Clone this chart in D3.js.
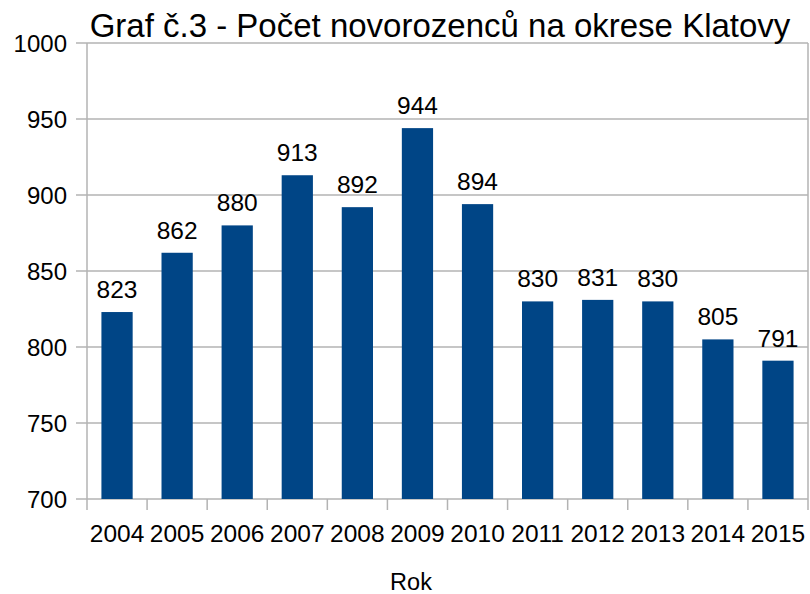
<!DOCTYPE html>
<html>
<head>
<meta charset="utf-8">
<script src="https://cdn.jsdelivr.net/npm/d3@7"></script>
<style>
body { margin: 0; background: #fff; }
text { font-family: "Liberation Sans", Arial, sans-serif; fill: #000; }
</style>
</head>
<body>
<script>
// chart data
var years = ["2004", "2005", "2006", "2007", "2008", "2009", "2010", "2011", "2012", "2013", "2014", "2015"];
var births = [823, 862, 880, 913, 892, 944, 894, 830, 831, 830, 805, 791];
var yTicks = [700, 750, 800, 850, 900, 950, 1000];
var chartTitle = "Graf č.3 - Počet novorozenců na okrese Klatovy";
var xTitle = "Rok";

var svgWidth = 810;
var svgHeight = 594;
var margin = {top: 43, right: 2, bottom: 95, left: 87};
var width = svgWidth - margin.left - margin.right;
var height = svgHeight - margin.top - margin.bottom;

var svg = d3.select("body")
	.append("svg")
		.attr("width", svgWidth)
		.attr("height", svgHeight);

var g = svg.append("g")
	.attr("transform", "translate(" + margin.left + "," + margin.top + ")");

var xScale = d3.scaleBand()
	.domain(years)
	.range([0, width])
	.paddingInner(0.48)
	.paddingOuter(0.24);

var yScale = d3.scaleLinear()
	.domain([700, 1000])
	.range([height, 0]);

//gridlines
g.append("g")
	.selectAll("line")
	.data(yTicks)
	.enter().append("line")
		.attr("x1", -11)
		.attr("x2", width)
		.attr("y1", function(d){ return yScale(d); })
		.attr("y2", function(d){ return yScale(d); })
		.attr("stroke", "#b3b3b3")
		.attr("stroke-width", 1.5);

//plot frame left/right
g.append("line")
	.attr("x1", 0).attr("x2", 0)
	.attr("y1", 0).attr("y2", height + 11)
	.attr("stroke", "#b3b3b3").attr("stroke-width", 1.5);
g.append("line")
	.attr("x1", width).attr("x2", width)
	.attr("y1", 0).attr("y2", height + 11)
	.attr("stroke", "#b3b3b3").attr("stroke-width", 1.5);

//category ticks on band boundaries
g.append("g")
	.selectAll("line")
	.data(years.slice(1))
	.enter().append("line")
		.attr("x1", function(d){ return xScale(d) - xScale.step() * xScale.paddingInner() / 2; })
		.attr("x2", function(d){ return xScale(d) - xScale.step() * xScale.paddingInner() / 2; })
		.attr("y1", height)
		.attr("y2", height + 11)
		.attr("stroke", "#b3b3b3")
		.attr("stroke-width", 1.5);

//y labels
g.append("g")
	.selectAll("text")
	.data(yTicks)
	.enter().append("text")
		.attr("x", -20)
		.attr("y", function(d){ return yScale(d); })
		.attr("dy", "0.36em")
		.attr("text-anchor", "end")
		.style("font-size", "24px")
		.text(function(d){ return d; });

//x labels
g.append("g")
	.selectAll("text")
	.data(years)
	.enter().append("text")
		.attr("x", function(d){ return xScale(d) + xScale.bandwidth() / 2; })
		.attr("y", height + 43)
		.attr("text-anchor", "middle")
		.style("font-size", "24.5px")
		.text(function(d){ return d; });

//bars
g.selectAll(".bar")
	.data(births)
	.enter().append("rect")
		.attr("class", "bar")
		.attr("x", function(d, i){ return xScale(years[i]); })
		.attr("width", xScale.bandwidth())
		.attr("y", function(d){ return yScale(d); })
		.attr("height", function(d){ return height - yScale(d); })
		.attr("fill", "#004586");

//value labels
g.selectAll(".val")
	.data(births)
	.enter().append("text")
		.attr("class", "val")
		.attr("x", function(d, i){ return xScale(years[i]) + xScale.bandwidth() / 2; })
		.attr("y", function(d){ return yScale(d) - 14; })
		.attr("text-anchor", "middle")
		.style("font-size", "24.5px")
		.text(function(d){ return d; });

//title
svg.append("text")
	.attr("x", 440)
	.attr("y", 37)
	.attr("text-anchor", "middle")
	.style("font-size", "33px")
	.text(chartTitle);

svg.append("text")
	.attr("x", 411)
	.attr("y", 590)
	.attr("text-anchor", "middle")
	.style("font-size", "23.5px")
	.text(xTitle);
</script>
</body>
</html>
